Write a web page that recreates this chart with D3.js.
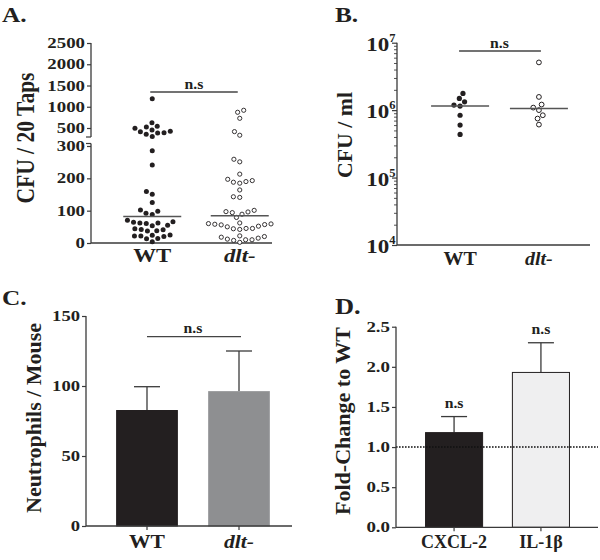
<!DOCTYPE html>
<html><head><meta charset="utf-8">
<script src="https://cdn.jsdelivr.net/npm/d3@7"></script>
<style>
body{margin:0;background:#fff}
svg text{font-family:"Liberation Serif","Times New Roman",serif;font-weight:bold;fill:#231f20}
</style></head><body><svg id="c" width="600" height="560"></svg>
<script>
// ---------------- DATA ----------------
const groups = ["WT", "dlt-"];
// Panel A: CFU / 20 Taps
const aWT = [1190, 625, 540, 524, 493, 453, 422, 413, 390, 382, 351,
  301, 285, 241, 159, 151, 125, 102, 98, 92, 88,
  70, 66, 64, 62, 62, 60, 55, 53, 44, 42, 41, 38, 37, 25, 24, 22, 22, 20, 14, 13, 4];
const aDlt = [917, 870, 728, 415, 330,
  259, 251, 213, 197, 193, 190, 188, 185, 164, 143, 141, 101, 97, 96, 94, 89, 79,
  62, 60, 59, 58, 57, 56, 52, 50, 45, 45, 44, 42, 22, 20, 18, 15, 12, 10, 10, 8, 2];
const aMedians = [82, 84];
const aTicksLow = [0, 100, 200, 300];
const aTicksHigh = [500, 1000, 1500, 2000, 2500];
// Panel B: CFU / ml
const bWT = [1.77e6, 1.49e6, 1.33e6, 1.19e6, 1.15e6, 8.4e5, 6.0e5, 4.37e5];
const bDlt = [5.1e6, 1.57e6, 1.21e6, 1.09e6, 1.0e6, 8.4e5, 7.5e5, 6.1e5];
const bMedians = [1.15e6, 1.06e6];
const bTicks = [1e4, 1e5, 1e6, 1e7];
// Panel C: Neutrophils / Mouse
const cMeans = [82.5, 96];
const cErr = [17, 29];
const cTicks = [0, 50, 100, 150];
// Panel D: Fold-Change to WT
const dGenes = ["CXCL-2", "IL-1β"];
const dMeans = [1.18, 1.93];
const dErr = [0.20, 0.37];
const dTicks = [0, 0.5, 1.0, 1.5, 2.0, 2.5];
const dRef = 1.0;

// ---------------- HELPERS ----------------
const svg = d3.select("#c");
const INK = "#231f20", LINE = "#3a3a3a";
function stretch(sel, k) {
  sel.each(function () {
    const L = this.getComputedTextLength();
    if (L > 0) { this.setAttribute("textLength", (L * k).toFixed(1)); this.setAttribute("lengthAdjust", "spacingAndGlyphs"); }
  });
}
function styleAxis(g, size, k) {
  g.attr("font-family", null).attr("font-size", null);
  g.selectAll(".domain").remove();
  g.selectAll(".tick line").attr("stroke", LINE).attr("stroke-width", 1.2);
  const t = g.selectAll(".tick text").style("font-size", size + "px").attr("fill", INK);
  if (k) stretch(t, k);
}
function swarm(vals, yf, cx, d) {
  const pts = vals.map(v => ({ v, y: yf(v) })).sort((a, b) => b.y - a.y);
  const placed = [];
  for (const p of pts) {
    const cands = [0];
    for (const q of placed) {
      const dy = Math.abs(q.y - p.y);
      if (dy < d) { const dx = Math.sqrt(d * d - dy * dy); cands.push(q.x - cx + dx, q.x - cx - dx); }
    }
    cands.sort((a, b) => Math.abs(a) - Math.abs(b) || a - b);
    let best = 0;
    for (const c of cands) {
      if (placed.every(q => (q.x - cx - c) ** 2 + (q.y - p.y) ** 2 >= d * d - 0.01)) { best = c; break; }
    }
    p.x = cx + best; placed.push(p);
  }
  return placed;
}
function vline(x, y1, y2, w = 1.2, col = LINE) {
  svg.append("line").attr("x1", x).attr("x2", x).attr("y1", y1).attr("y2", y2).attr("stroke", col).attr("stroke-width", w);
}
function hline(x1, x2, y, w = 1.2, col = LINE) {
  return svg.append("line").attr("x1", x1).attr("x2", x2).attr("y1", y).attr("y2", y).attr("stroke", col).attr("stroke-width", w);
}
function label(x, y, txt, size, k, anchor = "middle", italic = false) {
  const t = svg.append("text").attr("x", x).attr("y", y).attr("text-anchor", anchor)
    .style("font-size", size + "px").style("font-style", italic ? "italic" : null).text(txt);
  if (k && k !== 1) stretch(t, k);
  return t;
}
function ylabel(cx, cy, txt, size, len) {
  svg.append("text").attr("transform", `translate(${cx},${cy}) rotate(-90)`).attr("text-anchor", "middle")
    .style("font-size", size + "px").attr("textLength", len).attr("lengthAdjust", "spacingAndGlyphs").text(txt);
}
function groupLabels(xs, y, size, k) {
  groups.forEach(gname => label(xs(gname), y, gname, size, k, "middle", gname !== "WT"));
}

// ---------------- PANEL A ----------------
{
  const ax = 91, xEnd = 272;
  const yLow = d3.scaleLinear().domain([0, 300]).range([243, 146]);
  const yHigh = d3.scaleLinear().domain([300, 2500]).range([136.5, 43]);
  const yA = v => v <= 300 ? yLow(v) : yHigh(v);
  const x = d3.scalePoint().domain(groups).range([ax, 301]).padding(0.7);

  const gl = svg.append("g").attr("transform", `translate(${ax},0)`).call(d3.axisLeft(yLow).tickValues(aTicksLow).tickSize(4).tickPadding(2).tickFormat(d3.format("d")));
  styleAxis(gl, 14.5, 1.3);
  const gh = svg.append("g").attr("transform", `translate(${ax},0)`).call(d3.axisLeft(yHigh).tickValues(aTicksHigh).tickSize(4).tickPadding(2).tickFormat(d3.format("d")));
  styleAxis(gh, 14.5, 1.3);
  vline(ax, 243, 143.5, 1.3); vline(ax, 137, 43, 1.3);
  hline(ax - 5, ax, 137); hline(ax - 5, ax, 143.5);
  hline(ax, xEnd, 243, 1.3);

  const d = 6.4;
  swarm(aWT, yA, x("WT"), d).forEach(p => svg.append("circle").attr("cx", p.x).attr("cy", p.y).attr("r", 2.5).attr("fill", INK));
  swarm(aDlt, yA, x("dlt-"), d).forEach(p => svg.append("circle").attr("cx", p.x).attr("cy", p.y).attr("r", 2.1).attr("fill", "#fff").attr("stroke", INK).attr("stroke-width", 0.9));
  groups.forEach((gname, i) => hline(x(gname) - 29, x(gname) + 29, yA(aMedians[i]), 1.5, "#555"));

  hline(x("WT") - 2, x("dlt-") - 2, 92, 1.3, "#444");
  label((x("WT") + x("dlt-")) / 2 - 2, 89, "n.s", 15, 1.05);
  groupLabels(x, 262, 19, 1.2);
  ylabel(34, 138, "CFU / 20 Taps", 25, 131);
  label(2, 22, "A.", 22, 1.15, "start");
}

// ---------------- PANEL B ----------------
{
  const ax = 397, xEnd = 590, base = 245;
  const y = d3.scaleLog().domain([1e4, 1e7]).range([base, 42.7]);
  const x = d3.scalePoint().domain(groups).range([ax, 602]).padding(0.8);
  const minors = [];
  [1e4, 1e5, 1e6].forEach(dec => d3.range(2, 10).forEach(m => minors.push(dec * m)));
  const gm = svg.append("g").attr("transform", `translate(${ax},0)`).call(d3.axisLeft(y).tickValues(minors).tickSize(3).tickFormat(""));
  styleAxis(gm, 10); gm.selectAll(".tick line").attr("stroke-width", 1).attr("stroke", "#555");
  const g = svg.append("g").attr("transform", `translate(${ax},0)`).call(d3.axisLeft(y).tickValues(bTicks).tickSize(5).tickPadding(2).tickFormat(""));
  styleAxis(g, 19);
  g.selectAll(".tick text").each(function (v) {
    const t = d3.select(this).attr("dy", "0.4em").attr("x", -1.5);
    t.append("tspan").text("10").style("font-size", "19px").attr("textLength", 23).attr("lengthAdjust", "spacingAndGlyphs");
    t.append("tspan").text(Math.round(Math.log10(v))).style("font-size", "12.5px").attr("dy", "-0.7em");
  });
  vline(ax, base, 42.7, 1.3);
  hline(ax, xEnd, base, 1.3);
  swarm(bWT, y, x("WT"), 6.2).forEach(p => svg.append("circle").attr("cx", p.x).attr("cy", p.y).attr("r", 2.6).attr("fill", INK));
  swarm(bDlt, y, x("dlt-"), 6.2).forEach(p => svg.append("circle").attr("cx", p.x).attr("cy", p.y).attr("r", 2.4).attr("fill", "#fff").attr("stroke", INK).attr("stroke-width", 1));
  groups.forEach((gname, i) => hline(x(gname) - 29, x(gname) + 29, y(bMedians[i]), 1.5, "#555"));
  hline(x("WT") - 1, x("dlt-") + 2, 51, 1.3, "#444");
  label((x("WT") + x("dlt-")) / 2, 48, "n.s", 15, 1.05);
  groupLabels(x, 265, 19, 1.05);
  ylabel(352, 135, "CFU / ml", 22, 86);
  label(335, 22, "B.", 22, 1.15, "start");
}

// ---------------- PANEL C ----------------
{
  const ax = 86, xEnd = 292, base = 526;
  const y = d3.scaleLinear().domain([0, 150]).range([base, 316]);
  const x = d3.scaleBand().domain(groups).range([ax, 300]).paddingInner(0.34).paddingOuter(0.333);
  const g = svg.append("g").attr("transform", `translate(${ax},0)`).call(d3.axisLeft(y).tickValues(cTicks).tickSize(4).tickPadding(2));
  styleAxis(g, 15.5, 1.2);
  const fills = [INK, "#8e8f91"];
  groups.forEach((gname, i) => {
    const cx = x(gname) + x.bandwidth() / 2;
    vline(cx, y(cMeans[i]), y(cMeans[i] + cErr[i]), 1.3);
    hline(cx - 13, cx + 13, y(cMeans[i] + cErr[i]), 1.3);
    svg.append("rect").attr("x", x(gname)).attr("y", y(cMeans[i])).attr("width", x.bandwidth()).attr("height", base - y(cMeans[i]))
      .attr("fill", fills[i]).attr("stroke", i === 0 ? INK : "#9a9b9d").attr("stroke-width", 1);
  });
  const gx = svg.append("g").attr("transform", `translate(0,${base})`).call(d3.axisBottom(x).tickSize(4).tickFormat(""));
  styleAxis(gx, 10);
  vline(ax, base, 316, 1.3);
  hline(ax, xEnd, base, 1.3);
  const c0 = x("WT") + x.bandwidth() / 2, c1 = x("dlt-") + x.bandwidth() / 2;
  hline(c0, c1 + 2, 336.7, 1.3, "#444");
  label((c0 + c1) / 2, 333, "n.s", 15, 1.05);
  const xp = gname => x(gname) + x.bandwidth() / 2;
  groupLabels(xp, 548, 18, 1.2);
  ylabel(41, 418, "Neutrophils / Mouse", 21, 190);
  label(2, 305, "C.", 22, 1.15, "start");
}

// ---------------- PANEL D ----------------
{
  const ax = 396, xEnd = 598, base = 527.3;
  const y = d3.scaleLinear().domain([0, 2.5]).range([base, 326.7]);
  const x = d3.scaleBand().domain(dGenes).range([ax, 599]).paddingInner(0.343).paddingOuter(0.34);
  const g = svg.append("g").attr("transform", `translate(${ax},0)`).call(d3.axisLeft(y).tickValues(dTicks).tickSize(4).tickPadding(2).tickFormat(d3.format(".1f")));
  styleAxis(g, 14.5, 1.3);
  const fills = [INK, "#efeff0"];
  dGenes.forEach((gname, i) => {
    const cx = x(gname) + x.bandwidth() / 2;
    const top = y(dMeans[i] + dErr[i]);
    vline(cx, y(dMeans[i]), top, 1.3);
    hline(cx - 13, cx + 13, top, 1.3);
    svg.append("rect").attr("x", x(gname)).attr("y", y(dMeans[i])).attr("width", x.bandwidth()).attr("height", base - y(dMeans[i]))
      .attr("fill", fills[i]).attr("stroke", INK).attr("stroke-width", 1);
    label(cx, top - 9, "n.s", 15, 1.05);
    label(cx, 548, gname, 18, 1.0);
  });
  hline(ax, xEnd, y(dRef), 1.6, "#111").attr("stroke-dasharray", "1.6,1.4");
  const gx = svg.append("g").attr("transform", `translate(0,${base})`).call(d3.axisBottom(x).tickSize(4).tickFormat(""));
  styleAxis(gx, 10);
  vline(ax, base, 326.7, 1.3);
  hline(ax, xEnd, base, 1.3);
  ylabel(350, 421, "Fold-Change to WT", 21, 188);
  label(335, 314, "D.", 23, 1.15, "start");
}
</script></body></html>
